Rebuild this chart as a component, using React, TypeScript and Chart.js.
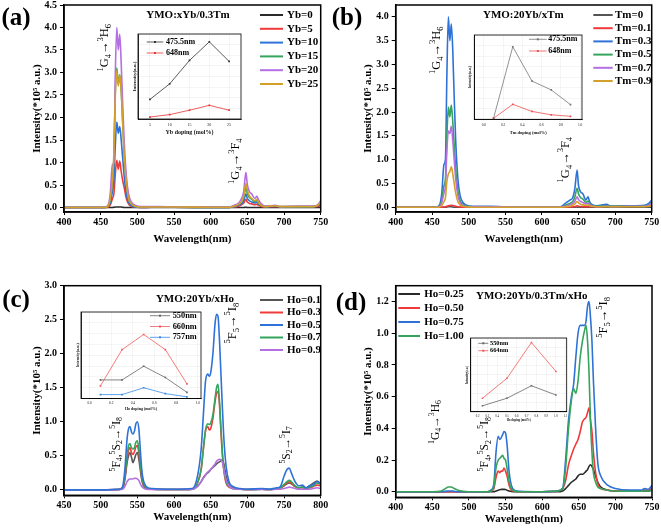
import React, { useEffect, useRef } from 'react';
import { Chart, registerables } from 'chart.js';

Chart.register(...registerables);

// ---------------- DATA ----------------
// Panels (a) and (b): wavelength grid (nm)
const WL_AB = [400, 440, 455, 460, 463, 466, 468, 470, 472, 474, 476, 478, 480, 482, 485, 488, 492, 497, 505, 520, 530, 550, 600, 625, 632, 638, 642, 645, 648, 650, 653, 656, 660, 663, 665, 668, 675, 688, 695, 720, 740, 746, 750];

const YB_LABELS = ['Yb=0', 'Yb=5', 'Yb=10', 'Yb=15', 'Yb=20', 'Yb=25'];
const YB0 = [0, 0, 0, 0, 0, 0, 0.005, 0.01, 0.01, 0.01, 0.01, 0.01, 0.005, 0, 0, 0, 0, 0, 0, 0, 0, 0, 0, 0, 0, 0, 0, 0, 0.005, 0, 0, 0, 0, 0, 0, 0, 0, 0, 0, 0, 0, 0, 0.005];
const YB5 = [0, 0, 0, 0.01, 0.05, 0.2, 0.3, 0.75, 1.05, 0.85, 1.03, 0.8, 0.6, 0.45, 0.2, 0.08, 0.02, 0.01, 0, 0.005, 0.005, 0.005, 0, 0, 0.01, 0.03, 0.06, 0.1, 0.18, 0.12, 0.09, 0.08, 0.06, 0.07, 0.05, 0.03, 0.01, 0.02, 0.01, 0.01, 0.01, 0.02, 0.05];
const YB10 = [0, 0, 0, 0.02, 0.1, 0.35, 0.6, 1.4, 1.9, 1.65, 1.8, 1.5, 1.1, 0.7, 0.3, 0.12, 0.04, 0.01, 0, 0.005, 0.005, 0.005, 0, 0, 0.02, 0.05, 0.08, 0.15, 0.3, 0.2, 0.15, 0.12, 0.1, 0.12, 0.08, 0.05, 0.02, 0.03, 0.01, 0.01, 0.02, 0.04, 0.1];
const YB15 = [0, 0, 0, 0.03, 0.18, 0.55, 1.1, 2.6, 3.1, 2.75, 2.95, 2.6, 1.9, 1.2, 0.55, 0.2, 0.07, 0.03, 0.01, 0.005, 0.005, 0.005, 0, 0, 0.03, 0.07, 0.12, 0.22, 0.45, 0.3, 0.22, 0.18, 0.13, 0.16, 0.1, 0.06, 0.02, 0.04, 0.02, 0.02, 0.02, 0.05, 0.12];
const YB20 = [0, 0, 0, 0.05, 0.3, 0.95, 1.0, 3.0, 4.0, 3.5, 3.85, 3.2, 2.3, 1.5, 0.7, 0.3, 0.12, 0.05, 0.02, 0.02, 0.02, 0.01, 0.01, 0.01, 0.05, 0.1, 0.2, 0.35, 0.78, 0.5, 0.35, 0.3, 0.2, 0.25, 0.18, 0.1, 0.03, 0.05, 0.02, 0.03, 0.03, 0.06, 0.15];
const YB25 = [0, 0, 0, 0.03, 0.2, 0.6, 1.2, 2.5, 3.05, 2.7, 2.95, 2.6, 1.9, 1.2, 0.55, 0.2, 0.08, 0.03, 0.01, 0.01, 0.01, 0.01, 0.005, 0.005, 0.03, 0.07, 0.13, 0.25, 0.53, 0.38, 0.25, 0.2, 0.15, 0.18, 0.12, 0.06, 0.02, 0.04, 0.02, 0.02, 0.02, 0.05, 0.12];

const TM_LABELS = ['Tm=0', 'Tm=0.1', 'Tm=0.3', 'Tm=0.5', 'Tm=0.7', 'Tm=0.9'];
const TM0 = [0, 0, 0, 0, 0, 0, 0, 0.005, 0.01, 0.01, 0.01, 0.005, 0, 0, 0, 0, 0, 0, 0, 0, 0, 0, 0, 0, 0, 0, 0, 0, 0.005, 0, 0, 0, 0, 0, 0, 0, 0, 0, 0, 0, 0, 0, 0.005];
const TM01 = [0, 0, 0, 0, 0, 0.005, 0.01, 0.02, 0.03, 0.035, 0.04, 0.035, 0.03, 0.02, 0.01, 0.005, 0, 0, 0, 0, 0, 0, 0, 0, 0, 0.005, 0.01, 0.015, 0.03, 0.02, 0.015, 0.015, 0.01, 0.015, 0.01, 0.01, 0.01, 0.02, 0.02, 0.03, 0.03, 0.04, 0.05];
const TM03 = [0, 0, 0, 0.05, 0.3, 0.9, 1.0, 2.8, 4.0, 3.5, 3.85, 3.3, 2.3, 1.4, 0.6, 0.25, 0.1, 0.04, 0.02, 0.02, 0.02, 0.01, 0.01, 0.01, 0.08, 0.15, 0.2, 0.4, 0.78, 0.45, 0.32, 0.28, 0.15, 0.22, 0.12, 0.06, 0.03, 0.06, 0.02, 0.03, 0.04, 0.08, 0.15];
const TM05 = [0, 0, 0, 0.02, 0.15, 0.45, 0.6, 1.5, 2.1, 1.9, 2.15, 1.8, 1.3, 0.8, 0.35, 0.14, 0.05, 0.02, 0.01, 0.01, 0.01, 0.01, 0.005, 0.005, 0.04, 0.08, 0.12, 0.22, 0.4, 0.28, 0.2, 0.17, 0.1, 0.13, 0.08, 0.04, 0.02, 0.03, 0.02, 0.02, 0.03, 0.05, 0.1];
const TM07 = [0, 0, 0, 0.01, 0.1, 0.3, 0.45, 1.2, 1.6, 1.55, 1.7, 1.4, 1.0, 0.6, 0.25, 0.1, 0.04, 0.01, 0.01, 0.01, 0.01, 0.005, 0.005, 0.005, 0.02, 0.05, 0.08, 0.13, 0.22, 0.16, 0.12, 0.1, 0.07, 0.09, 0.06, 0.03, 0.01, 0.02, 0.01, 0.02, 0.02, 0.04, 0.08];
const TM09 = [0, 0, 0, 0.005, 0.04, 0.12, 0.2, 0.55, 0.7, 0.75, 0.85, 0.7, 0.5, 0.3, 0.12, 0.05, 0.02, 0.01, 0, 0, 0, 0, 0, 0, 0.01, 0.02, 0.04, 0.07, 0.12, 0.09, 0.06, 0.05, 0.04, 0.05, 0.03, 0.02, 0.01, 0.01, 0.01, 0.01, 0.01, 0.02, 0.04];

// Panel (c)
const WL_C = [450, 500, 525, 530, 533, 536, 538, 540, 542, 544, 546, 548, 550, 552, 554, 556, 558, 562, 570, 600, 625, 632, 637, 640, 643, 646, 648, 650, 653, 656, 658, 660, 662, 664, 666, 668, 671, 675, 680, 690, 700, 720, 730, 740, 745, 750, 754, 757, 760, 765, 770, 775, 780, 785, 790, 795, 800];
const HO_C_LABELS = ['Ho=0.1', 'Ho=0.3', 'Ho=0.5', 'Ho=0.7', 'Ho=0.9'];
const HOC01 = [0, 0, 0.005, 0.02, 0.15, 0.4, 0.5, 0.55, 0.48, 0.4, 0.45, 0.52, 0.55, 0.45, 0.3, 0.15, 0.07, 0.02, 0.01, 0.005, 0.01, 0.05, 0.12, 0.18, 0.22, 0.25, 0.27, 0.3, 0.33, 0.36, 0.38, 0.4, 0.41, 0.43, 0.44, 0.38, 0.2, 0.07, 0.03, 0.01, 0.005, 0.01, 0.005, 0.02, 0.03, 0.06, 0.09, 0.1, 0.09, 0.05, 0.03, 0.04, 0.03, 0.06, 0.1, 0.13, 0.08];
const HOC03 = [0, 0, 0.005, 0.03, 0.18, 0.45, 0.58, 0.62, 0.55, 0.52, 0.56, 0.63, 0.65, 0.55, 0.36, 0.18, 0.09, 0.03, 0.01, 0.005, 0.01, 0.1, 0.3, 0.6, 0.87, 0.93, 0.88, 0.9, 1.05, 1.3, 1.42, 1.45, 1.25, 0.85, 0.5, 0.28, 0.1, 0.04, 0.02, 0.01, 0.005, 0.01, 0.005, 0.02, 0.03, 0.07, 0.1, 0.12, 0.1, 0.05, 0.03, 0.03, 0.02, 0.03, 0.05, 0.07, 0.06];
const HOC05 = [0, 0, 0.01, 0.05, 0.3, 0.75, 0.9, 0.93, 0.85, 0.82, 0.86, 0.97, 1.0, 0.9, 0.6, 0.3, 0.15, 0.05, 0.02, 0.01, 0.02, 0.2, 0.6, 1.1, 1.6, 1.7, 1.67, 1.72, 2.0, 2.45, 2.58, 2.55, 2.2, 1.7, 1.2, 0.75, 0.35, 0.12, 0.05, 0.02, 0.01, 0.02, 0.01, 0.03, 0.05, 0.2, 0.3, 0.32, 0.25, 0.12, 0.06, 0.07, 0.03, 0.06, 0.08, 0.12, 0.1];
const HOC07 = [0, 0, 0.005, 0.03, 0.2, 0.5, 0.65, 0.68, 0.62, 0.6, 0.62, 0.7, 0.72, 0.6, 0.4, 0.2, 0.1, 0.03, 0.01, 0.005, 0.01, 0.1, 0.3, 0.6, 0.88, 0.97, 0.96, 0.98, 1.1, 1.35, 1.5, 1.55, 1.3, 0.9, 0.55, 0.3, 0.12, 0.05, 0.02, 0.01, 0.005, 0.01, 0.005, 0.02, 0.03, 0.08, 0.12, 0.14, 0.12, 0.06, 0.03, 0.04, 0.02, 0.04, 0.06, 0.1, 0.08];
const HOC09 = [0, 0, 0.005, 0.01, 0.05, 0.12, 0.15, 0.16, 0.16, 0.16, 0.17, 0.17, 0.16, 0.14, 0.09, 0.05, 0.03, 0.01, 0.005, 0.005, 0.01, 0.05, 0.12, 0.17, 0.22, 0.26, 0.28, 0.3, 0.34, 0.38, 0.42, 0.44, 0.45, 0.44, 0.4, 0.3, 0.15, 0.06, 0.02, 0.01, 0.005, 0.005, 0.005, 0.01, 0.01, 0.02, 0.03, 0.04, 0.035, 0.02, 0.01, 0.01, 0.01, 0.01, 0.02, 0.03, 0.02];

// Panel (d)
const WL_D = [400, 450, 462, 468, 472, 476, 480, 485, 492, 500, 525, 530, 534, 537, 540, 542, 544, 546, 548, 550, 552, 555, 558, 562, 570, 600, 620, 628, 632, 636, 640, 643, 646, 649, 652, 655, 658, 660, 662, 664, 666, 668, 670, 673, 676, 680, 690, 700, 720, 735, 740, 745, 750];
const HO_D_LABELS = ['Ho=0.25', 'Ho=0.50', 'Ho=0.75', 'Ho=1.00'];
const HOD025 = [0, 0, 0, 0, 0, 0, 0, 0, 0, 0, 0, 0, 0, 0.005, 0.01, 0.012, 0.015, 0.015, 0.015, 0.014, 0.01, 0.005, 0.002, 0, 0, 0, 0, 0.005, 0.02, 0.04, 0.06, 0.07, 0.08, 0.1, 0.11, 0.11, 0.12, 0.13, 0.14, 0.16, 0.17, 0.16, 0.14, 0.1, 0.06, 0.03, 0.01, 0.005, 0.003, 0.003, 0.005, 0.005, 0.01];
const HOD050 = [0, 0, 0, 0, 0, 0, 0, 0, 0, 0, 0, 0.005, 0.02, 0.09, 0.13, 0.12, 0.13, 0.13, 0.15, 0.13, 0.1, 0.04, 0.01, 0.003, 0, 0, 0.003, 0.02, 0.07, 0.17, 0.23, 0.27, 0.3, 0.33, 0.38, 0.44, 0.46, 0.47, 0.5, 0.53, 0.45, 0.38, 0.25, 0.12, 0.05, 0.02, 0.01, 0.005, 0.003, 0.005, 0.01, 0.01, 0.02];
const HOD075 = [0, 0, 0, 0.003, 0.005, 0.005, 0.003, 0, 0, 0, 0, 0.01, 0.05, 0.25, 0.35, 0.33, 0.34, 0.36, 0.38, 0.37, 0.3, 0.12, 0.04, 0.01, 0.003, 0, 0.005, 0.02, 0.2, 0.45, 0.6, 0.68, 0.85, 1.0, 1.05, 1.05, 1.05, 1.08, 1.17, 1.2, 1.1, 0.95, 0.7, 0.4, 0.18, 0.1, 0.04, 0.02, 0.01, 0.01, 0.02, 0.015, 0.04];
const HOD100 = [0, 0, 0.005, 0.02, 0.03, 0.03, 0.02, 0.01, 0.003, 0, 0, 0.005, 0.03, 0.15, 0.2, 0.21, 0.22, 0.23, 0.21, 0.2, 0.15, 0.06, 0.02, 0.005, 0, 0, 0.005, 0.02, 0.15, 0.4, 0.58, 0.65, 0.62, 0.7, 0.85, 0.95, 1.02, 1.05, 0.95, 0.75, 0.45, 0.25, 0.12, 0.06, 0.03, 0.02, 0.01, 0.005, 0.003, 0.003, 0.005, 0.005, 0.01];

// Insets
const INSET_A_X = [5, 10, 15, 20, 25];
const INSET_A_475 = [20, 36, 60, 79, 59];
const INSET_A_648 = [2, 4.5, 9, 14, 9];
const INSET_B_X = [0.1, 0.3, 0.5, 0.7, 0.9];
const INSET_B_475 = [1, 74, 39, 30, 15];
const INSET_B_648 = [1, 15.3, 8, 4.6, 3];
const INSET_C_X = [0.1, 0.3, 0.5, 0.7, 0.9];
const INSET_C_550 = [19, 19, 33, 21.5, 6.3];
const INSET_C_660 = [13, 50, 65.5, 50, 15];
const INSET_C_757 = [4, 4, 11, 5, 1.7];
const INSET_D_X = [0.25, 0.5, 0.75, 1.0];
const INSET_D_550 = [6, 13.7, 26.4, 17];
const INSET_D_664 = [13.7, 34, 70.4, 41];

// ---------------- STYLE ----------------
const SERIF = '"Liberation Serif", "Times New Roman", "DejaVu Serif", serif';
const C_BLACK = '#2a2a2a';
const C_GRAY = '#555555';
const C_RED = '#f03a3a';
const C_BLUE = '#2e72d8';
const C_GREEN = '#35a45c';
const C_PURPLE = '#b46fe2';
const C_GOLD = '#d3a02a';

type Seg = [string, string];
const G4_H6: Seg[] = [['1', '^'], ['G', ''], ['4', '_'], ['\u2192', ''], ['3', '^'], ['H', ''], ['6', '_']];
const G4_F4: Seg[] = [['1', '^'], ['G', ''], ['4', '_'], ['\u2192', ''], ['3', '^'], ['F', ''], ['4', '_']];
const F4S2_I8: Seg[] = [['5', '^'], ['F', ''], ['4', '_'], [',', ''], ['5', '^'], ['S', ''], ['2', '_'], ['\u2192', ''], ['5', '^'], ['I', ''], ['8', '_']];
const F5_I8: Seg[] = [['5', '^'], ['F', ''], ['5', '_'], ['\u2192', ''], ['5', '^'], ['I', ''], ['8', '_']];
const S2_I7: Seg[] = [['5', '^'], ['S', ''], ['2', '_'], ['\u2192', ''], ['5', '^'], ['I', ''], ['7', '_']];

function drawRich(ctx: CanvasRenderingContext2D, segs: Seg[], x: number, y: number, size: number, weight: string, rot: number, color: string, align: string) {
  ctx.save();
  ctx.translate(x, y);
  ctx.rotate(rot);
  ctx.fillStyle = color;
  ctx.textBaseline = 'middle';
  ctx.textAlign = 'left';
  const parts = segs.map(([s, k]) => {
    const fs = k ? size * 0.68 : size;
    const font = `${weight} ${fs}px ${SERIF}`;
    ctx.font = font;
    return { s, font, w: ctx.measureText(s).width, dy: k === '^' ? -size * 0.36 : k === '_' ? size * 0.3 : 0 };
  });
  const total = parts.reduce((a, p) => a + p.w, 0);
  let cx = align === 'center' ? -total / 2 : align === 'right' ? -total : 0;
  parts.forEach((p) => {
    ctx.font = p.font;
    ctx.fillText(p.s, cx, p.dy);
    cx += p.w;
  });
  ctx.restore();
}

const overlayPlugin = {
  id: 'overlay',
  beforeDraw(chart: any, _a: any, opts: any) {
    if (opts && opts.fillArea) {
      const ca = chart.chartArea;
      const ctx = chart.ctx;
      ctx.save();
      ctx.fillStyle = opts.fillArea;
      ctx.fillRect(ca.left, ca.top, ca.right - ca.left, ca.bottom - ca.top);
      ctx.restore();
    }
  },
  afterDraw(chart: any, _a: any, opts: any) {
    if (!opts) return;
    const ctx: CanvasRenderingContext2D = chart.ctx;
    const ca = chart.chartArea;
    if (opts.frame) {
      ctx.save();
      ctx.strokeStyle = '#000';
      ctx.lineWidth = opts.frame;
      ctx.strokeRect(ca.left, ca.top, ca.right - ca.left, ca.bottom - ca.top);
      ctx.restore();
    }
    (opts.texts || []).forEach((t: any) => {
      const x = t.xv !== undefined ? chart.scales.x.getPixelForValue(t.xv) : t.x;
      const y = t.yv !== undefined ? chart.scales.y.getPixelForValue(t.yv) : t.y;
      drawRich(ctx, t.segs, x, y, t.size, t.weight || 'normal', t.rot || 0, t.color || '#000', t.align || 'center');
    });
    const L = opts.legend;
    if (L) {
      ctx.save();
      L.items.forEach((it: any, i: number) => {
        const y = L.y0 + i * L.dy;
        ctx.strokeStyle = it.color;
        ctx.lineWidth = L.lw;
        ctx.beginPath();
        ctx.moveTo(L.x0, y);
        ctx.lineTo(L.x1, y);
        ctx.stroke();
        if (L.marker) {
          ctx.fillStyle = it.color;
          ctx.fillRect((L.x0 + L.x1) / 2 - L.marker / 2, y - L.marker / 2, L.marker, L.marker);
        }
        ctx.fillStyle = '#000';
        ctx.font = L.font;
        ctx.textBaseline = 'middle';
        ctx.textAlign = 'left';
        ctx.fillText(it.label, L.tx, y);
      });
      ctx.restore();
    }
  },
};

function mainConfig(p: any) {
  const n = p.series.length;
  const datasets = p.series.map((s: any, i: number) => ({
    label: s.label,
    data: p.wl.map((x: number, j: number) => ({ x, y: s.values[j] })),
    borderColor: s.color,
    backgroundColor: s.color,
    borderWidth: 1.6,
    pointRadius: 0,
    cubicInterpolationMode: 'monotone',
    fill: false,
    order: s.order !== undefined ? s.order : n - i,
  }));
  const tickFont = { family: SERIF, size: 10, weight: 'bold' as const };
  const titleFont = { family: SERIF, size: 11, weight: 'bold' as const };
  return {
    type: 'line' as const,
    data: { datasets },
    options: {
      responsive: false,
      animation: false as const,
      devicePixelRatio: 1,
      layout: { padding: p.padding },
      plugins: {
        legend: { display: false },
        tooltip: { enabled: false },
        overlay: {
          frame: 1.5,
          texts: p.texts,
          legend: {
            items: p.series.map((s: any) => ({ label: s.label, color: s.color })),
            ...p.legend,
            lw: 2,
            font: `bold 11px ${SERIF}`,
          },
        },
      },
      scales: {
        x: {
          type: 'linear' as const,
          min: p.xMin,
          max: p.xMax,
          ticks: { stepSize: p.xStep, font: tickFont, color: '#000', padding: 1, includeBounds: false, maxRotation: 0, autoSkip: false },
          grid: { drawOnChartArea: false, drawTicks: true, tickLength: 3, color: '#000', lineWidth: 1 },
          border: { color: '#000', width: 1.5 },
          title: { display: true, text: 'Wavelength(nm)', font: titleFont, color: '#000', padding: { top: 0, bottom: p.xTitlePad } },
          afterFit: (s: any) => {
            s.height = p.xAxisH;
            s.paddingLeft = 0;
            s.paddingRight = 0;
          },
        },
        y: {
          type: 'linear' as const,
          min: p.yMin,
          max: p.yMax,
          ticks: {
            stepSize: p.yStep,
            font: tickFont,
            color: '#000',
            padding: 3,
            includeBounds: false,
            autoSkip: false,
            callback: (v: any) => Number(v).toFixed(1),
          },
          grid: { drawOnChartArea: false, drawTicks: true, tickLength: 4, color: '#000', lineWidth: 1 },
          border: { color: '#000', width: 1.5 },
          title: { display: true, text: 'Intensity(*10\u2075 a.u.)', font: titleFont, color: '#000', padding: { top: p.yTitlePad, bottom: 0 } },
          afterFit: (s: any) => {
            s.width = p.yAxisW;
            s.paddingTop = 0;
            s.paddingBottom = 0;
          },
        },
      },
    },
    plugins: [overlayPlugin],
  };
}

function insetConfig(p: any) {
  const datasets = p.series.map((s: any) => ({
    label: s.label,
    data: p.xs.map((x: number, j: number) => ({ x, y: s.values[j] })),
    borderColor: s.color,
    backgroundColor: s.color,
    borderWidth: 0.8,
    pointRadius: p.pointR,
    pointStyle: 'rect',
    pointBorderWidth: 0,
    tension: 0,
    fill: false,
  }));
  const tickFont = { family: SERIF, size: p.tickSize, weight: 'normal' as const };
  return {
    type: 'line' as const,
    data: { datasets },
    options: {
      responsive: false,
      animation: false as const,
      devicePixelRatio: 1,
      layout: { padding: p.padding },
      plugins: {
        legend: { display: false },
        tooltip: { enabled: false },
        overlay: {
          fillArea: '#ffffff',
          frame: 0.8,
          legend: {
            items: p.series.map((s: any) => ({ label: s.label, color: s.color })),
            ...p.legend,
            lw: 0.8,
            marker: 2,
          },
        },
      },
      scales: {
        x: {
          type: 'linear' as const,
          min: p.xMin,
          max: p.xMax,
          ticks: {
            stepSize: p.xStep,
            font: tickFont,
            color: '#222',
            padding: p.tickPad,
            includeBounds: false,
            maxRotation: 0,
            autoSkip: false,
            callback: (v: any) => (p.xFixed !== undefined ? Number(v).toFixed(p.xFixed) : String(v)),
          },
          grid: { drawOnChartArea: true, drawTicks: true, tickLength: p.tickLen, color: 'rgba(0,0,0,0.07)', lineWidth: 0.6 },
          border: { color: '#000', width: 0.8 },
          title: { display: true, text: p.xTitle, font: { family: SERIF, size: p.xTitleSize, weight: 'bold' as const }, color: '#111', padding: { top: 0, bottom: p.xTitlePad } },
          afterFit: (s: any) => {
            s.height = p.xAxisH;
            s.paddingLeft = 0;
            s.paddingRight = 0;
          },
        },
        y: {
          type: 'linear' as const,
          min: 0,
          max: p.yMax,
          ticks: { display: false, stepSize: p.yMax / 8 },
          grid: { drawOnChartArea: true, drawTicks: false, color: 'rgba(0,0,0,0.07)', lineWidth: 0.6 },
          border: { color: '#000', width: 0.8 },
          title: { display: true, text: 'Intensity(a.u.)', font: { family: SERIF, size: p.yTitleSize, weight: 'bold' as const }, color: '#111', padding: { top: p.yTitlePad, bottom: 0 } },
          afterFit: (s: any) => {
            s.width = p.yAxisW;
            s.paddingTop = 0;
            s.paddingBottom = 0;
          },
        },
      },
    },
    plugins: [overlayPlugin],
  };
}

const ROT = -Math.PI / 2;

// ---------------- CONFIGS ----------------
const cfgA = () =>
  mainConfig({
    wl: WL_AB,
    series: [
      { label: YB_LABELS[0], values: YB0, color: C_BLACK },
      { label: YB_LABELS[1], values: YB5, color: C_RED },
      { label: YB_LABELS[2], values: YB10, color: C_BLUE },
      { label: YB_LABELS[3], values: YB15, color: C_GREEN },
      { label: YB_LABELS[4], values: YB20, color: C_PURPLE },
      { label: YB_LABELS[5], values: YB25, color: C_GOLD },
    ],
    xMin: 400, xMax: 750, xStep: 50,
    yMin: -0.1, yMax: 4.5, yStep: 0.5,
    padding: { left: 0, right: 9.3, top: 5, bottom: 0 },
    yAxisW: 64, xAxisH: 46, xTitlePad: 12.4, yTitlePad: 30.4,
    legend: { x0: 260, x1: 283, tx: 287, y0: 15, dy: 13.8 },
    texts: [
      { segs: [['(a)', '']], x: 16, y: 19, size: 25, weight: 'bold' },
      { segs: [['YMO:xYb/0.3Tm', '']], x: 188, y: 15.5, size: 11, weight: 'bold' },
      { segs: G4_H6, xv: 456, yv: 3.55, size: 12.5, rot: ROT },
      { segs: G4_F4, xv: 634.5, yv: 1.03, size: 12.5, rot: ROT },
    ],
  });

const cfgB = () =>
  mainConfig({
    wl: WL_AB,
    series: [
      { label: TM_LABELS[0], values: TM0, color: C_GRAY },
      { label: TM_LABELS[1], values: TM01, color: C_RED },
      { label: TM_LABELS[2], values: TM03, color: C_BLUE },
      { label: TM_LABELS[3], values: TM05, color: C_GREEN },
      { label: TM_LABELS[4], values: TM07, color: C_PURPLE },
      { label: TM_LABELS[5], values: TM09, color: C_GOLD },
    ],
    xMin: 400, xMax: 750, xStep: 50,
    yMin: -0.1, yMax: 4.25, yStep: 0.5,
    padding: { left: 0, right: 9.3, top: 5, bottom: 0 },
    yAxisW: 65.7, xAxisH: 46, xTitlePad: 12.1, yTitlePad: 31.7,
    legend: { x0: 263.3, x1: 282.7, tx: 285, y0: 15, dy: 13.2 },
    texts: [
      { segs: [['(b)', '']], x: 17, y: 18.5, size: 25, weight: 'bold' },
      { segs: [['YMO:20Yb/xTm', '']], x: 193.3, y: 15, size: 11, weight: 'bold' },
      { segs: G4_H6, xv: 456.4, yv: 3.3, size: 12.5, rot: ROT },
      { segs: G4_F4, xv: 632.5, yv: 1.0, size: 12.5, rot: ROT },
    ],
  });

const cfgC = () =>
  mainConfig({
    wl: WL_C,
    series: [
      { label: HO_C_LABELS[0], values: HOC01, color: C_GRAY },
      { label: HO_C_LABELS[1], values: HOC03, color: C_RED },
      { label: HO_C_LABELS[2], values: HOC05, color: C_BLUE, order: 0 },
      { label: HO_C_LABELS[3], values: HOC07, color: C_GREEN },
      { label: HO_C_LABELS[4], values: HOC09, color: C_PURPLE },
    ],
    xMin: 450, xMax: 800, xStep: 50,
    yMin: -0.08, yMax: 3.0, yStep: 0.5,
    padding: { left: 0, right: 9.3, top: 25.7, bottom: 0 },
    yAxisW: 64, xAxisH: 33.7, xTitlePad: 5.1, yTitlePad: 30.1,
    legend: { x0: 260, x1: 283, tx: 287, y0: 40, dy: 12.5 },
    texts: [
      { segs: [['(c)', '']], x: 16, y: 41, size: 25, weight: 'bold' },
      { segs: [['YMO:20Yb/xHo', '']], x: 195, y: 39.3, size: 11, weight: 'bold' },
      { segs: F4S2_I8, xv: 522, yv: 0.67, size: 11.5, rot: ROT },
      { segs: F5_I8, xv: 680, yv: 2.45, size: 12.5, rot: ROT },
      { segs: S2_I7, xv: 754, yv: 0.66, size: 11.5, rot: ROT },
    ],
  });

const cfgD = () =>
  mainConfig({
    wl: WL_D,
    series: [
      { label: HO_D_LABELS[0], values: HOD025, color: C_BLACK },
      { label: HO_D_LABELS[1], values: HOD050, color: C_RED },
      { label: HO_D_LABELS[2], values: HOD075, color: C_BLUE },
      { label: HO_D_LABELS[3], values: HOD100, color: C_GREEN },
    ],
    xMin: 400, xMax: 750, xStep: 50,
    yMin: -0.035, yMax: 1.3, yStep: 0.2,
    padding: { left: 0, right: 9, top: 25.7, bottom: 0 },
    yAxisW: 65.7, xAxisH: 31.7, xTitlePad: 3.1, yTitlePad: 31.1,
    legend: { x0: 68.3, x1: 90, tx: 94.3, y0: 34, dy: 14 },
    texts: [
      { segs: [['(d)', '']], x: 21, y: 44, size: 25, weight: 'bold' },
      { segs: [['YMO:20Yb/0.3Tm/xHo', '']], x: 201.7, y: 36, size: 11, weight: 'bold' },
      { segs: G4_H6, xv: 455, yv: 0.44, size: 11.5, rot: ROT },
      { segs: F4S2_I8, xv: 522, yv: 0.3, size: 11.5, rot: ROT },
      { segs: F5_I8, xv: 684.5, yv: 1.1, size: 12.5, rot: ROT },
    ],
  });

const cfgIA = () =>
  insetConfig({
    xs: INSET_A_X,
    series: [
      { label: '475.5nm', values: INSET_A_475, color: '#333333' },
      { label: '648nm', values: INSET_A_648, color: '#ee3333' },
    ],
    xMin: 2, xMax: 28, xStep: 5, yMax: 87,
    padding: { left: 0, right: 5, top: 2, bottom: 0 },
    yAxisW: 12, xAxisH: 21, tickSize: 4, tickLen: 2, tickPad: 1.6, pointR: 1.2,
    xTitle: 'Yb doping (mol%)', xTitleSize: 6, xTitlePad: 4.1, yTitleSize: 5, yTitlePad: 6,
    legend: { x0: 20.7, x1: 37.3, tx: 40, y0: 12, dy: 11, font: `bold 8px ${SERIF}` },
  });

const cfgIB = () =>
  insetConfig({
    xs: INSET_B_X,
    series: [
      { label: '475.5nm', values: INSET_B_475, color: '#777777' },
      { label: '648nm', values: INSET_B_648, color: '#f05050' },
    ],
    xMin: -0.1, xMax: 1.02, xStep: 0.2, xFixed: 1, yMax: 86,
    padding: { left: 0, right: 3.4, top: 2, bottom: 0 },
    yAxisW: 12.3, xAxisH: 21.7, tickSize: 3.5, tickLen: 2, tickPad: 1.5, pointR: 1.2,
    xTitle: 'Tm doping (mol%)', xTitleSize: 4.5, xTitlePad: 5, yTitleSize: 3.7, yTitlePad: 5.8,
    legend: { x0: 67, x1: 84.7, tx: 86.3, y0: 8.3, dy: 11.7, font: `bold 8px ${SERIF}` },
  });

const cfgIC = () =>
  insetConfig({
    xs: INSET_C_X,
    series: [
      { label: '550nm', values: INSET_C_550, color: '#666666' },
      { label: '660nm', values: INSET_C_660, color: '#f25a5a' },
      { label: '757nm', values: INSET_C_757, color: '#3a8ae6' },
    ],
    xMin: -0.08, xMax: 1.03, xStep: 0.2, xFixed: 1, yMax: 88.5,
    padding: { left: 0, right: 4, top: 2, bottom: 0 },
    yAxisW: 12, xAxisH: 15.5, tickSize: 3.5, tickLen: 1.5, tickPad: 0.6, pointR: 1.2,
    xTitle: 'Ho doping (mol%)', xTitleSize: 4, xTitlePad: 2.3, yTitleSize: 4, yTitlePad: 6.6,
    legend: { x0: 81, x1: 101, tx: 103.7, y0: 7.7, dy: 10.8, font: `bold 8.3px ${SERIF}` },
  });

const cfgID = () =>
  insetConfig({
    xs: INSET_D_X,
    series: [
      { label: '550nm', values: INSET_D_550, color: '#666666' },
      { label: '664nm', values: INSET_D_664, color: '#f25a5a' },
    ],
    xMin: 0.13, xMax: 1.11, xStep: 0.1, xFixed: 1, yMax: 75,
    padding: { left: 0, right: 4.3, top: 2, bottom: 0 },
    yAxisW: 11.7, xAxisH: 14.3, tickSize: 3, tickLen: 1.5, tickPad: 1, pointR: 1.1,
    xTitle: 'Ho doping (mol%)', xTitleSize: 3, xTitlePad: 3.5, yTitleSize: 3, yTitlePad: 6.2,
    legend: { x0: 19.3, x1: 29.3, tx: 31, y0: 9.3, dy: 7.4, font: `bold 6.3px ${SERIF}` },
  });

// ---------------- COMPONENTS ----------------
function ChartCanvas({ left, top, width, height, make, z }: { left: number; top: number; width: number; height: number; make: () => any; z: number }) {
  const ref = useRef<HTMLCanvasElement>(null);
  useEffect(() => {
    if (!ref.current) return;
    const chart = new Chart(ref.current, make());
    return () => chart.destroy();
  }, []);
  return (
    <canvas
      ref={ref}
      width={width}
      height={height}
      style={{ position: 'absolute', left, top, width, height, zIndex: z, display: 'block' }}
    />
  );
}

export default function App() {
  return (
    <div style={{ position: 'fixed', left: 0, top: 0, width: 661, height: 529, background: '#ffffff', overflow: 'hidden' }}>
      <ChartCanvas left={0} top={0} width={330} height={258} make={cfgA} z={1} />
      <ChartCanvas left={330} top={0} width={331} height={258} make={cfgB} z={1} />
      <ChartCanvas left={0} top={260} width={330} height={269} make={cfgC} z={1} />
      <ChartCanvas left={330} top={260} width={331} height={269} make={cfgD} z={1} />
      <ChartCanvas left={126} top={30} width={120} height={110} make={cfgIA} z={2} />
      <ChartCanvas left={462} top={31} width={124} height={110} make={cfgIB} z={2} />
      <ChartCanvas left={69} top={308} width={136} height={106} make={cfgIC} z={2} />
      <ChartCanvas left={459} top={334} width={112} height={92} make={cfgID} z={2} />
    </div>
  );
}
